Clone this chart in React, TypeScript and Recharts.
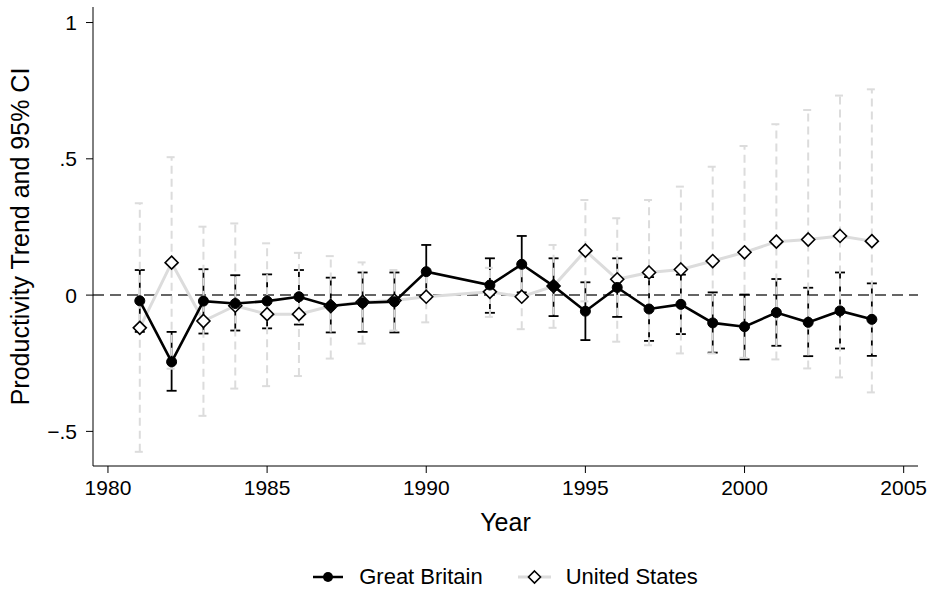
import React from "react";
import {
  ComposedChart,
  Line,
  XAxis,
  YAxis,
  ErrorBar,
  ReferenceLine,
  Legend,
} from "recharts";

const years = [
  1981, 1982, 1983, 1984, 1985, 1986, 1987, 1988, 1989, 1990, 1992, 1993,
  1994, 1995, 1996, 1997, 1998, 1999, 2000, 2001, 2002, 2003, 2004,
];

const gbTrend = [
  -0.021, -0.245, -0.022, -0.031, -0.022, -0.006, -0.04, -0.028, -0.024, 0.086,
  0.037, 0.113, 0.033, -0.059, 0.028, -0.051, -0.034, -0.102, -0.116, -0.064,
  -0.1, -0.058, -0.089,
];
const gbLower = [
  -0.135, -0.351, -0.141, -0.13, -0.122, -0.108, -0.137, -0.135, -0.137, -0.012,
  -0.065, 0.01, -0.077, -0.165, -0.08, -0.168, -0.143, -0.211, -0.236, -0.186,
  -0.224, -0.196, -0.223,
];
const gbUpper = [
  0.092, -0.135, 0.095, 0.073, 0.076, 0.092, 0.064, 0.083, 0.083, 0.184, 0.135,
  0.217, 0.135, 0.047, 0.135, 0.066, 0.075, 0.01, 0.002, 0.059, 0.027, 0.083,
  0.043,
];

const usTrend = [
  -0.12, 0.119, -0.095, -0.039, -0.07, -0.07, -0.04, -0.025, -0.02, -0.006,
  0.012, -0.006, 0.033, 0.163, 0.058, 0.083, 0.094, 0.125, 0.157, 0.196, 0.204,
  0.217, 0.198,
];
const usLower = [
  -0.575, -0.27, -0.443, -0.343, -0.334, -0.297, -0.233, -0.178, -0.13, -0.1,
  -0.08, -0.125, -0.12, -0.023, -0.171, -0.184, -0.214, -0.214, -0.23, -0.236,
  -0.269, -0.302, -0.357,
];
const usUpper = [
  0.337, 0.506, 0.251, 0.263, 0.19, 0.155, 0.143, 0.12, 0.092, 0.09, 0.1, 0.115,
  0.184, 0.349, 0.282, 0.349, 0.398, 0.471, 0.547, 0.627, 0.679, 0.732, 0.755,
];

const xTicks = [1980, 1985, 1990, 1995, 2000, 2005];
const yTicks = [-0.5, 0, 0.5, 1];

const data = years.map((year, i) => ({
  year,
  gb: gbTrend[i],
  gbErr: [gbTrend[i] - gbLower[i], gbUpper[i] - gbTrend[i]],
  us: usTrend[i],
  usErr: [usTrend[i] - usLower[i], usUpper[i] - usTrend[i]],
}));

const FONT = "'Liberation Sans', Arial, Helvetica, sans-serif";
const US_GRAY = "#dcdcdc";

function fmtY(v: number) {
  if (v === 0) return "0";
  if (v === 1) return "1";
  const s = String(Math.abs(v)).replace(/^0/, "");
  return v < 0 ? "\u2212" + s : s;
}

function Diamond(props: any) {
  const { cx, cy, index } = props;
  if (cx == null || cy == null) return <g key={`d-${index}`} />;
  const r = 6.5;
  return (
    <path
      key={`d-${index}`}
      d={`M${cx},${cy - r}L${cx + r},${cy}L${cx},${cy + r}L${cx - r},${cy}Z`}
      fill="#fff"
      stroke="#000"
      strokeWidth={1.6}
    />
  );
}

function LegendBox() {
  return (
    <div
      style={{
        display: "flex",
        justifyContent: "center",
        alignItems: "center",
        height: 30,
        fontFamily: FONT,
        fontSize: 22,
        color: "#000",
      }}
    >
      <svg width={30} height={14} style={{ marginRight: 16 }}>
        <line x1={0} y1={7} x2={30} y2={7} stroke="#000" strokeWidth={2.5} />
        <circle cx={15} cy={7} r={5} fill="#000" />
      </svg>
      <span style={{ marginRight: 35 }}>Great Britain</span>
      <svg width={33} height={16} style={{ marginRight: 15 }}>
        <line x1={0} y1={8} x2={33} y2={8} stroke={US_GRAY} strokeWidth={3} />
        <path d="M16.5,2L22.5,8L16.5,14L10.5,8Z" fill="#fff" stroke="#000" strokeWidth={1.6} />
      </svg>
      <span>United States</span>
    </div>
  );
}

export default function App() {
  return (
    <div style={{ position: "absolute", left: 0, top: 0, background: "#fff" }}>
      <ComposedChart
        width={932}
        height={592}
        data={data}
        margin={{ top: 7, right: 14, left: 0, bottom: 0 }}
        style={{ fontFamily: FONT }}
      >
        <XAxis
          dataKey="year"
          type="number"
          domain={[1979.53, 2005.45]}
          ticks={xTicks}
          allowDataOverflow
          height={96}
          tickSize={7}
          tickMargin={7}
          stroke="#000"
          tick={{ fill: "#000", fontSize: 21 }}
          label={(p: any) => (
            <text
              x={p.viewBox.x + p.viewBox.width / 2}
              y={p.viewBox.y + 56}
              textAnchor="middle"
              dominantBaseline="central"
              fontSize={25}
              fill="#000"
            >
              Year
            </text>
          )}
        />
        <XAxis
          xAxisId="top"
          dataKey="year"
          type="number"
          orientation="top"
          domain={[1979.53, 2005.45]}
          allowDataOverflow
          height={0}
          tick={false}
          tickLine={false}
          stroke="#000"
        />
        <YAxis
          type="number"
          domain={[-0.627, 1.057]}
          ticks={yTicks}
          allowDataOverflow
          width={93}
          tickSize={7}
          tickMargin={9}
          stroke="#000"
          tickFormatter={fmtY}
          tick={{ fill: "#000", fontSize: 21 }}
          label={(p: any) => {
            const x = p.viewBox.x + 20;
            const y = p.viewBox.y + p.viewBox.height / 2;
            return (
              <text
                x={x}
                y={y}
                transform={`rotate(-90 ${x} ${y})`}
                textAnchor="middle"
                dominantBaseline="central"
                fontSize={25}
                fill="#000"
              >
                Productivity Trend and 95% CI
              </text>
            );
          }}
        />
        <YAxis
          yAxisId="right"
          orientation="right"
          type="number"
          domain={[-0.627, 1.057]}
          allowDataOverflow
          width={0}
          tick={false}
          tickLine={false}
          stroke="#000"
        />
        <ReferenceLine
          y={0}
          stroke="#333"
          strokeWidth={1.5}
          strokeDasharray="11 6"
        />
        <Line
          dataKey="gb"
          stroke="none"
          dot={false}
          activeDot={false}
          legendType="none"
          isAnimationActive={false}
        >
          <ErrorBar dataKey="gbErr" width={5} stroke="#000" strokeWidth={1.8} />
        </Line>
        <Line
          dataKey="us"
          stroke="none"
          dot={false}
          activeDot={false}
          legendType="none"
          isAnimationActive={false}
        >
          <ErrorBar
            dataKey="usErr"
            width={5}
            stroke={US_GRAY}
            strokeWidth={2}
            strokeDasharray="8 5"
          />
        </Line>
        <Line
          dataKey="us"
          stroke={US_GRAY}
          strokeWidth={3}
          dot={Diamond}
          activeDot={false}
          isAnimationActive={false}
        />
        <Line
          dataKey="gb"
          stroke="#000"
          strokeWidth={2.6}
          dot={{ r: 5, fill: "#000", stroke: "#000", strokeWidth: 1 }}
          activeDot={false}
          isAnimationActive={false}
        />
        <Legend verticalAlign="bottom" content={() => <LegendBox />} wrapperStyle={{ left: 93, width: 825 }} />
      </ComposedChart>
    </div>
  );
}
